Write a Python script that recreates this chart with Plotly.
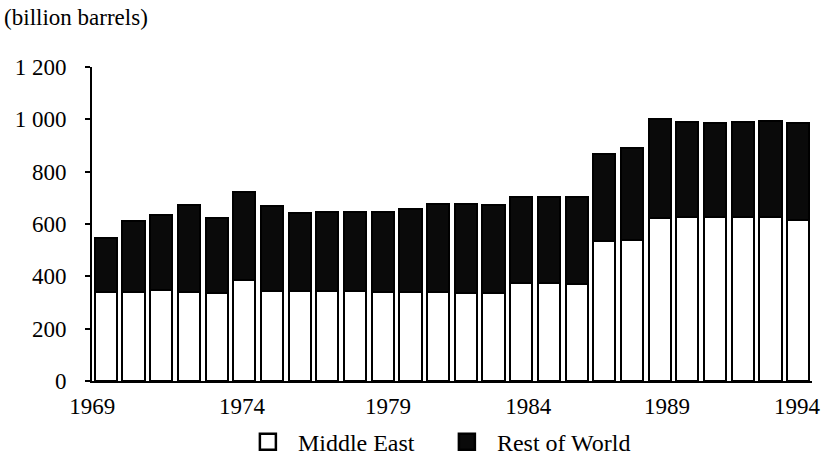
import plotly.graph_objects as go

years = list(range(1969, 1995))
middle_east = [340, 340, 349, 340, 336, 385, 344, 344, 344, 344, 340, 340, 339,
               338, 338, 373, 373, 371, 535, 539, 622, 626, 626, 626, 626, 615]
rest_of_world = [208, 270, 284, 333, 286, 336, 324, 297, 303, 303, 305, 317, 339,
                 340, 336, 332, 332, 331, 331, 350, 379, 365, 359, 364, 368, 372]
series_names = ["Middle East", "Rest of World"]
series_colors = ["white", "#0a0a0a"]

y_tickvals = [0, 200, 400, 600, 800, 1000, 1200]
y_ticktext = ["0", "200", "400", "600", "800", "1 000", "1 200"]
# label positions as printed in the original (slightly off the bar centres)
x_tickvals = [1968.51, 1973.92, 1979.19, 1984.25, 1989.26, 1993.96]
x_ticktext = ["1969", "1974", "1979", "1984", "1989", "1994"]

FONT = "Liberation Serif, Times New Roman, serif"

fig = go.Figure()
for name, vals, col in zip(series_names, [middle_east, rest_of_world], series_colors):
    fig.add_trace(go.Bar(
        x=years, y=vals, name=name, showlegend=False, legendgroup=name,
        marker=dict(color=col, line=dict(color="black", width=2)),
    ))
# legend keys (larger square swatches, as in the original)
for name, col in zip(series_names, series_colors):
    fig.add_trace(go.Scatter(
        x=[None], y=[None], mode="markers", name=name, legendgroup=name,
        marker=dict(symbol="square", size=16, color=col,
                    line=dict(color="black", width=2.5)),
    ))

fig.update_layout(
    barmode="stack",
    bargap=0.2,
    width=821, height=459,
    margin=dict(l=92, r=9, t=67, b=78, autoexpand=False),
    paper_bgcolor="white", plot_bgcolor="white",
    font=dict(family=FONT, size=23, color="black"),
    title=dict(text="(billion barrels)", xref="container", yref="container",
               x=0.005, y=0.962, xanchor="left", yanchor="middle",
               font=dict(family=FONT, size=23, color="black")),
    showlegend=True,
    legend=dict(orientation="h", x=0.479, xanchor="center", y=-0.195, yanchor="middle",
                font=dict(family=FONT, size=24, color="black"),
                traceorder="normal", itemsizing="trace", itemwidth=50,
                entrywidth=134, entrywidthmode="pixels"),
    xaxis=dict(range=[1968.5, 1994.5], tickvals=x_tickvals, ticktext=x_ticktext,
               showgrid=False, showline=True, linecolor="black", linewidth=2,
               ticks="", zeroline=False, automargin=False, ticklabelstandoff=3,
               tickfont=dict(family=FONT, size=23)),
    yaxis=dict(range=[0, 1200], tickvals=y_tickvals, ticktext=y_ticktext,
               showgrid=False, showline=True, linecolor="black", linewidth=2,
               ticks="outside", ticklen=5, tickwidth=2, tickcolor="black",
               ticklabelstandoff=14, zeroline=False, automargin=False,
               tickfont=dict(family=FONT, size=23)),
)

fig.write_html("out.html", config={"displayModeBar": False},
               post_script="document.body.style.margin='0';document.body.style.overflow='hidden';")
